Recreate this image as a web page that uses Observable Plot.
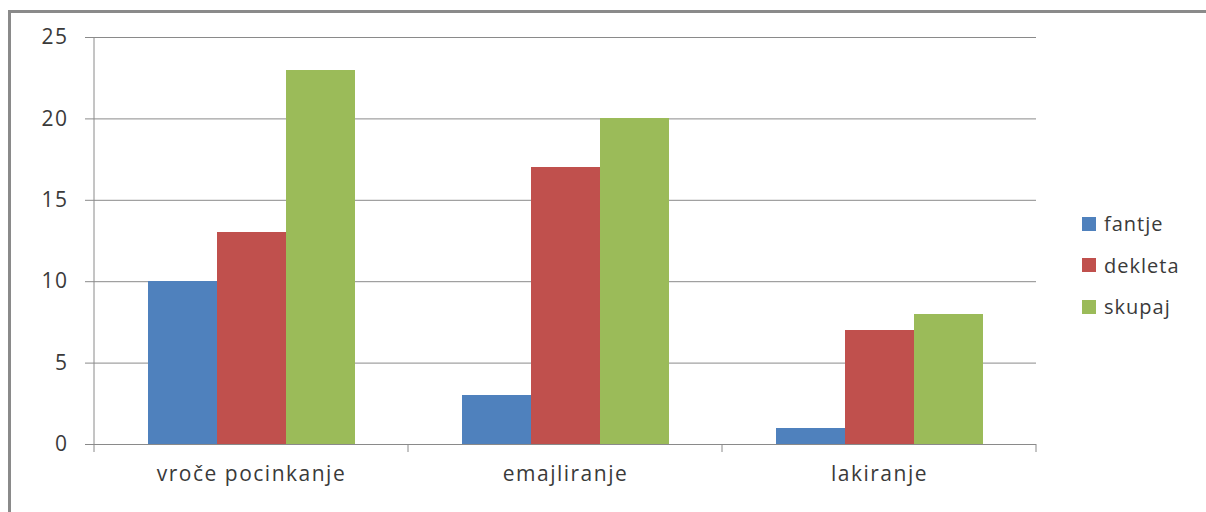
<!DOCTYPE html>
<html>
<head>
<meta charset="utf-8">
<script src="https://cdn.jsdelivr.net/npm/d3@7"></script>
<script src="https://cdn.jsdelivr.net/npm/@observablehq/plot@0.6"></script>
<style>
  body { margin: 0; background: #fff; }
  #wrap { position: relative; width: 1206px; height: 512px; overflow: hidden; background: #fff; }
  #border { position: absolute; left: 8px; top: 10px; width: 1400px; height: 700px;
            border-left: 3px solid #8a8a8a; border-top: 3px solid #8a8a8a; pointer-events: none; }
  #legend { position: absolute; left: 1082px; top: 203px; font-family: "Open Sans", sans-serif;
            font-size: 20px; color: #3a3a3a; letter-spacing: 1px; }
  #legend .row { display: flex; align-items: center; height: 41.5px; }
  #legend .sw { width: 14px; height: 14px; margin-right: 8px; }
</style>
</head>
<body>
<div id="wrap"></div>
<script>
// Surface finishing methods and counts per group
const categories = ["vroče pocinkanje", "emajliranje", "lakiranje"];
const series = ["fantje", "dekleta", "skupaj"];
const fantje = [10, 3, 1];
const dekleta = [13, 17, 7];
const skupaj = [23, 20, 8];
const yTicks = [0, 5, 10, 15, 20, 25];
const colors = ["#4F81BD", "#C0504D", "#9BBB59"];

const valuesBySeries = {fantje, dekleta, skupaj};
const rows = categories.flatMap((cat, i) =>
  series.map(s => ({cat, series: s, value: valuesBySeries[s][i]}))
);

const gridColor = "#8a8a8a";

const chart = Plot.plot({
  width: 1206,
  height: 512,
  marginLeft: 93,
  marginRight: 169,
  marginTop: 37,
  marginBottom: 68,
  style: {fontFamily: "'Open Sans', sans-serif", fontSize: "21px", color: "#3a3a3a", background: "transparent", letterSpacing: "1.5px"},
  fx: {domain: categories, padding: 0, axis: null, label: null},
  x: {domain: series, paddingInner: 0, paddingOuter: 0.77, axis: null},
  y: {domain: [0, 25], axis: null},
  color: {domain: series, range: colors},
  marks: [
    Plot.ruleY(yTicks.filter(d => d > 0), {stroke: gridColor, strokeWidth: 1}),
    Plot.barY(rows, {fx: "cat", x: "series", y: "value", fill: "series", shapeRendering: "crispEdges"}),
    Plot.ruleY([0], {stroke: gridColor, strokeWidth: 1}),
    Plot.axisY({ticks: yTicks, tickSize: 9, tickPadding: 17, stroke: gridColor, tickFormat: d => d, label: null, fontSize: 21, fill: "#3a3a3a"}),
    Plot.axisFx({anchor: "bottom", tickSize: 0, tickPadding: 22, label: null, fontSize: 21, fill: "#3a3a3a"})
  ]
});

// Category axis line and band boundary ticks, placed from the plot's own scales
const fx = chart.scale("fx");
const y = chart.scale("y");
const y0 = y.apply(0);
const yTop = y.apply(25);
const bounds = categories.map(c => fx.apply(c));
bounds.push(fx.apply(categories[categories.length - 1]) + fx.bandwidth);
const svg = d3.select(chart);
svg.append("line")
  .attr("x1", bounds[0]).attr("x2", bounds[0])
  .attr("y1", yTop).attr("y2", y0)
  .attr("stroke", gridColor);
svg.selectAll("line.bt").data(bounds).join("line")
  .attr("class", "bt")
  .attr("x1", d => d).attr("x2", d => d)
  .attr("y1", y0).attr("y2", y0 + 8)
  .attr("stroke", gridColor);

const wrap = document.getElementById("wrap");
wrap.appendChild(chart);

// Legend on the right
const legend = document.createElement("div");
legend.id = "legend";
series.forEach((s, i) => {
  const row = document.createElement("div");
  row.className = "row";
  const sw = document.createElement("span");
  sw.className = "sw";
  sw.style.background = colors[i];
  const label = document.createElement("span");
  label.textContent = s;
  row.appendChild(sw);
  row.appendChild(label);
  legend.appendChild(row);
});
wrap.appendChild(legend);

const border = document.createElement("div");
border.id = "border";
wrap.appendChild(border);
</script>
</body>
</html>
